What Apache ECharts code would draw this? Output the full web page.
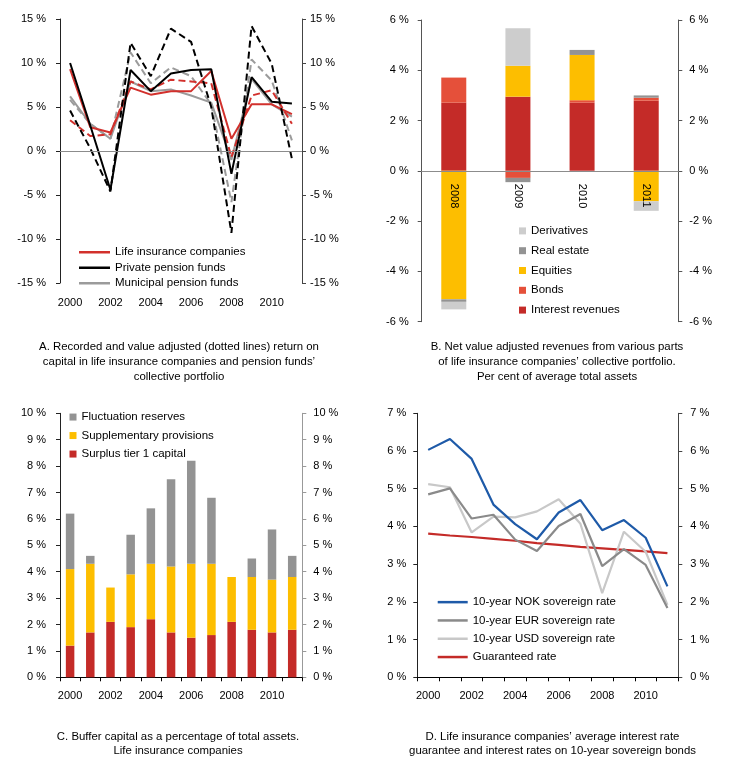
<!DOCTYPE html>
<html>
<head>
<meta charset="utf-8">
<script src="https://cdn.jsdelivr.net/npm/echarts@6/dist/echarts.min.js"></script>
<style>
html,body{margin:0;padding:0;background:#fff;}
#chart{width:730px;height:777px;}
</style>
</head>
<body>
<div id="chart"></div>
<script>
// ---------- Data ----------
const years = ['2000','2001','2002','2003','2004','2005','2006','2007','2008','2009','2010','2011'];

// Panel A: return on capital (%), recorded and value adjusted
const lifeRecorded      = [9.3, 2.7, 2.1, 7.2, 6.4, 6.8, 6.8, 9.1, 1.4, 5.3, 5.3, 4.2];
const lifeAdjusted      = [3.5, 1.7, 1.9, 7.9, 7.0, 8.1, 7.9, 7.7, -0.7, 6.3, 6.9, 3.1];
const privateRecorded   = [10.0, 2.9, -4.4, 9.2, 6.8, 8.8, 9.2, 9.3, -2.6, 8.4, 5.6, 5.4];
const privateAdjusted   = [4.6, 0.3, -4.6, 12.3, 8.5, 13.9, 12.4, 5.0, -9.3, 14.2, 9.9, -0.9];
const municipalRecorded = [6.2, 3.1, 1.4, 7.9, 6.8, 7.0, 6.3, 5.5, -1.0, 8.2, 5.3, 3.9];
const municipalAdjusted = [5.8, 3.1, 1.4, 11.2, 7.7, 9.5, 8.5, 5.3, -5.8, 10.4, 8.0, 1.2];
const aTicks = [-15, -10, -5, 0, 5, 10, 15];

// Panel B: net value adjusted revenues (% of average total assets)
const bYears = ['2008','2009','2010','2011'];
const interestRevenues = [2.71, 2.95, 2.71, 2.79];
const bonds            = [1.00, -0.28, 0.10, 0.12];
const equities         = [-5.11, 1.23, 1.80, -1.21];
const realEstate       = [-0.10, -0.17, 0.20, 0.09];
const derivatives      = [-0.30, 1.49, 0.00, -0.38];
const bTicks = [-6, -4, -2, 0, 2, 4, 6];

// Panel C: buffer capital (% of total assets)
const surplusTier1   = [1.2, 1.7, 2.1, 1.9, 2.2, 1.7, 1.5, 1.6, 2.1, 1.8, 1.7, 1.8];
const supplementary  = [2.9, 2.6, 1.3, 2.0, 2.1, 2.5, 2.8, 2.7, 1.7, 2.0, 2.0, 2.0];
const fluctuation    = [2.1, 0.3, 0.0, 1.5, 2.1, 3.3, 3.9, 2.5, 0.0, 0.7, 1.9, 0.8];
const cTicks = [0, 1, 2, 3, 4, 5, 6, 7, 8, 9, 10];

// Panel D: interest rates (%)
const nokRate        = [6.03, 6.32, 5.79, 4.58, 4.06, 3.66, 4.37, 4.70, 3.90, 4.17, 3.70, 2.41];
const eurRate        = [4.85, 5.01, 4.21, 4.31, 3.65, 3.35, 4.01, 4.33, 2.95, 3.40, 2.98, 1.84];
const usdRate        = [5.12, 5.04, 3.84, 4.26, 4.24, 4.40, 4.72, 4.07, 2.23, 3.86, 3.33, 1.92];
const guaranteedRate = [3.81, 3.76, 3.72, 3.67, 3.62, 3.56, 3.51, 3.46, 3.42, 3.38, 3.34, 3.29];
const dTicks = [0, 1, 2, 3, 4, 5, 6, 7];

// ---------- Styling ----------
const FONT = 'Liberation Sans, Arial, sans-serif';
const C_RED = '#C42B28', C_BOND = '#E5503A', C_YEL = '#FDBE00', C_GRAY = '#939393', C_LGRAY = '#CDCDCD';
const C_LIFE = '#D2302C', C_PRIV = '#000000', C_MUNI = '#9B9B9B';
const C_NOK = '#1E5AA8', C_EUR = '#8A8A8A', C_USD = '#C8C8C8';

const GRID_B = { left: 421.7, top: 20, width: 256.6, height: 301.7 };

function yAx(grid, pos, ticks, lineColor, margin) {
  return {
    type: 'value', gridIndex: grid, position: pos,
    min: ticks[0], max: ticks[ticks.length - 1], interval: ticks[1] - ticks[0],
    axisLine: { show: true, onZero: false, lineStyle: { color: lineColor, width: 1 } },
    axisTick: { show: true, inside: false, length: 4, lineStyle: { color: lineColor } },
    splitLine: { show: false },
    axisLabel: { formatter: v => v + ' %', color: '#000', fontSize: 11, margin: margin, fontFamily: FONT }
  };
}

function lineSeries(name, data, color, dashed, xi, yi, width) {
  return {
    name: name, type: 'line', xAxisIndex: xi, yAxisIndex: yi, data: data,
    symbol: 'none', color: color, silent: true,
    lineStyle: { color: color, width: width || 2, type: dashed ? [7, 4] : 'solid' }
  };
}

function barSeries(name, data, color, stack, xi, yi, w) {
  return {
    name: name, type: 'bar', stack: stack, xAxisIndex: xi, yAxisIndex: yi, data: data,
    barWidth: w, color: color, itemStyle: { color: color }, silent: true
  };
}

const zeroLineA = lineSeries('Municipal pension funds', municipalRecorded, C_MUNI, false, 0, 0);
zeroLineA.markLine = {
  silent: true, symbol: 'none', label: { show: false },
  lineStyle: { color: '#8c8c8c', type: 'solid', width: 1 },
  data: [{ yAxis: 0 }]
};

// offset that moves panel B's category axis from the grid bottom up to the 0 % level
const bZeroOffset = -GRID_B.height * (0 - bTicks[0]) / (bTicks[bTicks.length - 1] - bTicks[0]);

const CAPTION = { textAlign: 'center', align: 'center', textVerticalAlign: 'top', verticalAlign: 'top', fontSize: 11.4, fill: '#000', fontFamily: FONT };

const option = {
  animation: false,
  backgroundColor: '#fff',
  textStyle: { fontFamily: FONT },
  grid: [
    { left: 60, top: 19, width: 242, height: 264 },
    GRID_B,
    { left: 60, top: 413.3, width: 242.3, height: 264 },
    { left: 417.3, top: 413.3, width: 261, height: 264 }
  ],
  xAxis: [
    { type: 'category', gridIndex: 0, data: years, boundaryGap: true,
      axisLine: { show: false, onZero: false }, axisTick: { show: false },
      axisLabel: { interval: 1, margin: 14, fontSize: 11, color: '#000' } },
    { type: 'category', gridIndex: 1, data: bYears, boundaryGap: true, z: 10,
      position: 'bottom', offset: bZeroOffset,
      axisLine: { show: true, onZero: false, lineStyle: { color: '#8c8c8c', width: 1 } },
      axisTick: { show: false },
      axisLabel: { rotate: -90, margin: 13, fontSize: 11, color: '#000' } },
    { type: 'category', gridIndex: 2, data: years, boundaryGap: true,
      axisLine: { show: true, lineStyle: { color: '#000', width: 1 } },
      axisTick: { show: true, interval: 0, length: 4, lineStyle: { color: '#000' } },
      axisLabel: { interval: 1, margin: 13, fontSize: 11, color: '#000' } },
    { type: 'category', gridIndex: 3, data: years, boundaryGap: true,
      axisLine: { show: true, lineStyle: { color: '#000', width: 1 } },
      axisTick: { show: true, interval: 0, length: 4, lineStyle: { color: '#000' } },
      axisLabel: { interval: 1, margin: 13, fontSize: 11, color: '#000' } }
  ],
  yAxis: [
    yAx(0, 'left', aTicks, '#222', 14),
    yAx(0, 'right', aTicks, '#444', 8),
    yAx(1, 'left', bTicks, '#555', 13),
    yAx(1, 'right', bTicks, '#555', 11),
    yAx(2, 'left', cTicks, '#222', 14),
    yAx(2, 'right', cTicks, '#999', 11),
    yAx(3, 'left', dTicks, '#222', 11),
    yAx(3, 'right', dTicks, '#444', 12)
  ],
  legend: [
    { data: ['Life insurance companies', 'Private pension funds', 'Municipal pension funds'],
      orient: 'vertical', left: 79, top: 244.5, padding: 0, icon: 'rect', itemWidth: 31, itemHeight: 2.5, itemGap: 0,
      selectedMode: false, textStyle: { fontSize: 11.5, lineHeight: 15.5, color: '#000' } },
    { data: ['Derivatives', 'Real estate', 'Equities', 'Bonds', 'Interest revenues'],
      orient: 'vertical', left: 519, top: 221, padding: 0, icon: 'rect', itemWidth: 7, itemHeight: 7, itemGap: 0,
      selectedMode: false, textStyle: { fontSize: 11.5, lineHeight: 19.8, color: '#000' } },
    { data: ['Fluctuation reserves', 'Supplementary provisions', 'Surplus tier 1 capital'],
      orient: 'vertical', left: 69.5, top: 407.8, padding: 0, icon: 'rect', itemWidth: 7, itemHeight: 7, itemGap: 0,
      selectedMode: false, textStyle: { fontSize: 11.5, lineHeight: 18.5, color: '#000' } },
    { data: ['10-year NOK sovereign rate', '10-year EUR sovereign rate', '10-year USD sovereign rate', 'Guaranteed rate'],
      orient: 'vertical', left: 437.7, top: 593, padding: 0, icon: 'rect', itemWidth: 30, itemHeight: 2.5, itemGap: 0,
      selectedMode: false, textStyle: { fontSize: 11.5, lineHeight: 18.3, color: '#000' } }
  ],
  series: [
    // Panel A
    zeroLineA,
    lineSeries('Municipal pension funds (value adjusted)', municipalAdjusted, C_MUNI, true, 0, 0),
    lineSeries('Life insurance companies (value adjusted)', lifeAdjusted, C_LIFE, true, 0, 0),
    lineSeries('Life insurance companies', lifeRecorded, C_LIFE, false, 0, 0),
    lineSeries('Private pension funds (value adjusted)', privateAdjusted, C_PRIV, true, 0, 0),
    lineSeries('Private pension funds', privateRecorded, C_PRIV, false, 0, 0),
    // Panel B
    barSeries('Interest revenues', interestRevenues, C_RED, 'b', 1, 2, 25),
    barSeries('Bonds', bonds, C_BOND, 'b', 1, 2, 25),
    barSeries('Equities', equities, C_YEL, 'b', 1, 2, 25),
    barSeries('Real estate', realEstate, C_GRAY, 'b', 1, 2, 25),
    barSeries('Derivatives', derivatives, C_LGRAY, 'b', 1, 2, 25),
    // Panel C
    barSeries('Surplus tier 1 capital', surplusTier1, C_RED, 'c', 2, 4, 8.5),
    barSeries('Supplementary provisions', supplementary, C_YEL, 'c', 2, 4, 8.5),
    barSeries('Fluctuation reserves', fluctuation, C_GRAY, 'c', 2, 4, 8.5),
    // Panel D
    lineSeries('Guaranteed rate', guaranteedRate, C_RED, false, 3, 6, 2.2),
    lineSeries('10-year USD sovereign rate', usdRate, C_USD, false, 3, 6, 2.2),
    lineSeries('10-year EUR sovereign rate', eurRate, C_EUR, false, 3, 6, 2.2),
    lineSeries('10-year NOK sovereign rate', nokRate, C_NOK, false, 3, 6, 2.2)
  ],
  graphic: [
    { type: 'text', x: 179, y: 339.5, style: Object.assign({ text: 'A. Recorded and value adjusted (dotted lines) return on\ncapital in life insurance companies and pension funds’\ncollective portfolio', lineHeight: 15 }, CAPTION) },
    { type: 'text', x: 557, y: 339.5, style: Object.assign({ text: 'B. Net value adjusted revenues from various parts\nof life insurance companies’ collective portfolio.\nPer cent of average total assets', lineHeight: 15 }, CAPTION) },
    { type: 'text', x: 178, y: 730, style: Object.assign({ text: 'C. Buffer capital as a percentage of total assets.\nLife insurance companies', lineHeight: 14 }, CAPTION) },
    { type: 'text', x: 552.5, y: 730, style: Object.assign({ text: 'D. Life insurance companies’ average interest rate\nguarantee and interest rates on 10-year sovereign bonds', lineHeight: 14 }, CAPTION) }
  ]
};

const chart = echarts.init(document.getElementById('chart'), null, { renderer: 'canvas' });
chart.setOption(option);
</script>
</body>
</html>
